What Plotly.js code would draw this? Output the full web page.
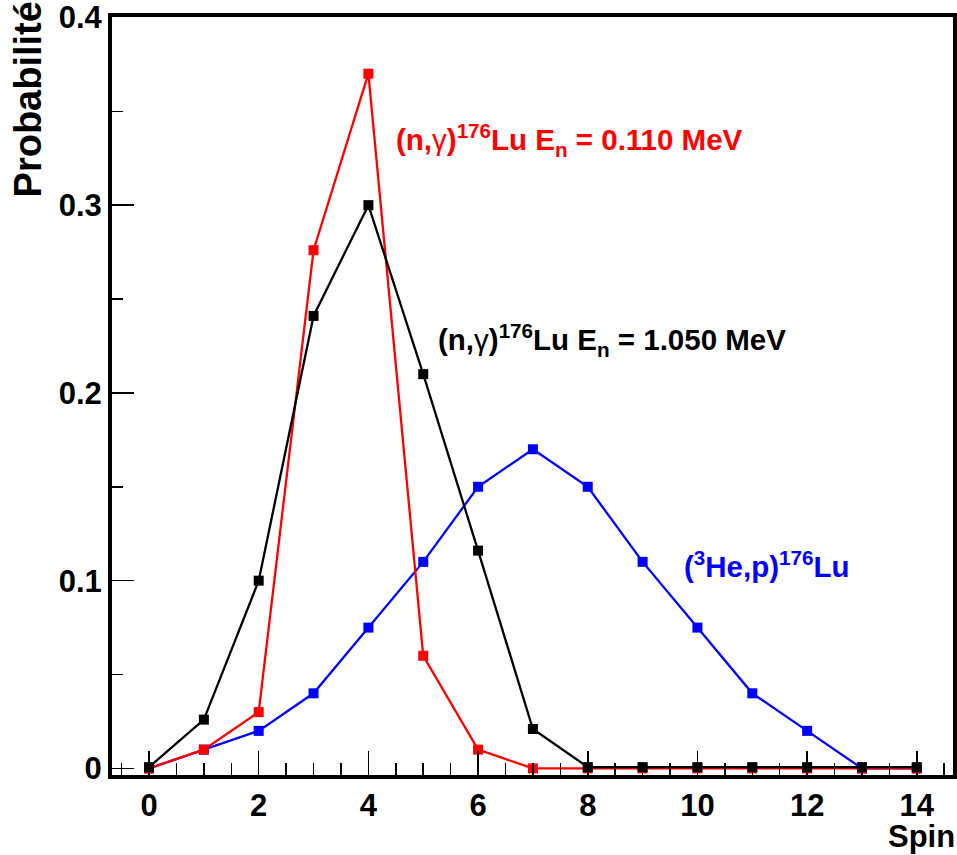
<!DOCTYPE html>
<html>
<head>
<meta charset="utf-8">
<script src="https://cdn.plot.ly/plotly-3.0.1.min.js"></script>
<style>html,body{margin:0;padding:0;background:#fff;}#chart{width:957px;height:855px;}</style>
</head>
<body>
<div id="chart"></div>
<script>
// Data
const spin = [0, 1, 2, 3, 4, 5, 6, 7, 8, 9, 10, 11, 12, 13, 14];
const probNg0110 = [0, 0.010, 0.030, 0.276, 0.370, 0.060, 0.010, 0, 0, 0, 0, 0, 0, 0, 0];
const probNg1050 = [0.0007, 0.026, 0.100, 0.241, 0.300, 0.210, 0.116, 0.021, 0.0007, 0.0007, 0.0007, 0.0007, 0.0007, 0.0007, 0.0007];
const prob3HeP = [0, 0.010, 0.020, 0.040, 0.075, 0.110, 0.150, 0.170, 0.150, 0.110, 0.075, 0.040, 0.020, 0, 0];
const labelNg0110 = '(n,<span style="font-weight:normal">γ</span>)<sup>176</sup>Lu E<sub>n</sub> = 0.110 MeV';
const labelNg1050 = '(n,<span style="font-weight:normal">γ</span>)<sup>176</sup>Lu E<sub>n</sub> = 1.050 MeV';
const label3HeP = '(<sup>3</sup>He,p)<sup>176</sup>Lu';
const xTitle = 'Spin';
const yTitle = 'Probabilité';

const FONT = 'Liberation Sans, Arial, Helvetica, sans-serif';

function series(y, color) {
  return {
    x: spin, y: y, type: 'scatter', mode: 'lines+markers',
    line: {color: color, width: 2.3},
    marker: {symbol: 'square', size: 10, color: color},
    showlegend: false, hoverinfo: 'skip'
  };
}

const traces = [
  series(prob3HeP, '#0000ff'),
  series(probNg0110, '#ff0000'),
  series(probNg1050, '#000000')
];

const axisCommon = {
  showline: true, linewidth: 4, linecolor: '#000', mirror: true,
  ticks: 'inside', tickwidth: 1.5, tickcolor: '#000',
  showgrid: false, zeroline: false,
  tickfont: {family: FONT, size: 31, color: '#000', weight: 'bold'}
};

const layout = {
  width: 957, height: 855,
  margin: {l: 112, r: 4, t: 17, b: 80},
  paper_bgcolor: '#fff', plot_bgcolor: '#fff',
  font: {family: FONT, color: '#000'},
  xaxis: Object.assign({}, axisCommon, {
    range: [-0.675, 14.66], tick0: 0, dtick: 2, ticklen: 24,
    minor: {ticks: 'inside', dtick: 0.5, tick0: 0, ticklen: 12, tickwidth: 1.5, tickcolor: '#000', showgrid: false}
  }),
  yaxis: Object.assign({}, axisCommon, {
    range: [-0.0035, 0.4002], tick0: 0, dtick: 0.1, ticklen: 22,
    minor: {ticks: 'inside', dtick: 0.05, tick0: 0, ticklen: 11, tickwidth: 1.5, tickcolor: '#000', showgrid: false}
  }),
  annotations: [
    {text: labelNg0110, xref: 'x', yref: 'y', x: 4.47, y: 0.3347, xanchor: 'left', yanchor: 'middle', showarrow: false,
     font: {family: FONT, size: 29.5, color: '#ff0000', weight: 'bold'}},
    {text: labelNg1050, xref: 'x', yref: 'y', x: 5.23, y: 0.228, xanchor: 'left', yanchor: 'middle', showarrow: false,
     font: {family: FONT, size: 29.5, color: '#000000', weight: 'bold'}},
    {text: label3HeP, xref: 'x', yref: 'y', x: 9.72, y: 0.1084, xanchor: 'left', yanchor: 'middle', showarrow: false,
     font: {family: FONT, size: 29.5, color: '#0000ff', weight: 'bold'}},
    {text: xTitle, xref: 'paper', yref: 'paper', x: 1.004, y: -0.1055, xanchor: 'right', yanchor: 'bottom', showarrow: false,
     borderpad: 0, font: {family: FONT, size: 31, color: '#000', weight: 'bold'}},
    {text: yTitle, xref: 'paper', yref: 'paper', x: -0.1, y: 1.023, xanchor: 'center', yanchor: 'top', textangle: -90, showarrow: false,
     font: {family: FONT, size: 38, color: '#000', weight: 'bold'}}
  ]
};

Plotly.newPlot('chart', traces, layout, {displayModeBar: false, staticPlot: true});
</script>
</body>
</html>
